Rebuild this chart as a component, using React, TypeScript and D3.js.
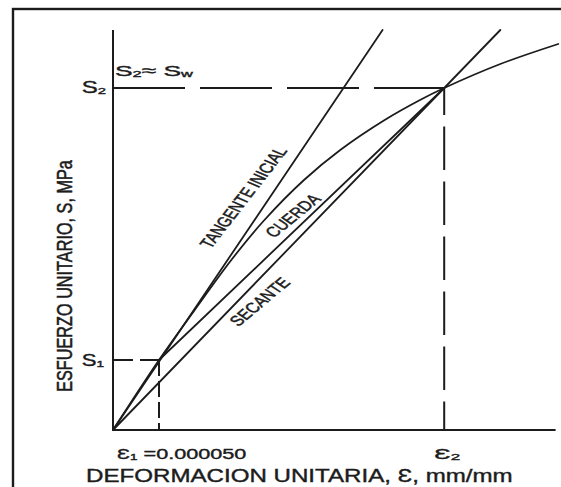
import { useEffect, useRef } from "react";
import * as d3 from "d3";

// values (strain in mm/mm, stress in arbitrary MPa units)
const strainMax = 0.00048;
const stressMax = 20;
const strainMarks = [0.00005, 0.00036]; // e1, e2
const stressMarks = [3.5, 17.1]; // S1, S2
const curveStrain = [0, 0.00005, 0.0000888, 0.0001286, 0.0001646, 0.0002076, 0.000247, 0.0002953, 0.0003337, 0.00036, 0.000421, 0.000484];
const curveStress = [0, 3.5, 6.0, 8.5, 10.5, 12.5, 14.0, 15.5, 16.5, 17.1, 18.3, 19.3];
const tangentStrain = [0, 0.000293];
const tangentStress = [0, 20];
const secantStrain = [0, 0.00036, 0.000421];
const secantStress = [0, 17.1, 20];

const lineLabels = [
  { text: "TANGENTE INICIAL", strain: 0.000148, stress: 11.5, angle: -60 },
  { text: "CUERDA", strain: 0.000201, stress: 10.55, angle: -47.5 },
  { text: "SECANTE", strain: 0.000165, stress: 6.25, angle: -48.6 },
];

const FONT = "'Liberation Sans', Arial, Helvetica, sans-serif";
const INK = "#1c1c1c";
const STRETCH = 1.35; // the scan is stretched horizontally

export default function App() {
  const svgRef = useRef<SVGSVGElement | null>(null);

  useEffect(() => {
    if (!svgRef.current) return;
    const svg = d3.select(svgRef.current);
    svg.selectAll("*").remove();

    const x = d3.scaleLinear().domain([0, strainMax]).range([113, 554.6]);
    const y = d3.scaleLinear().domain([0, stressMax]).range([430, 30]);

    svg.append("rect").attr("width", 561).attr("height", 487).attr("fill", "#fff");

    // outer frame (cut by the page edge)
    svg.append("rect")
      .attr("x", 13).attr("y", 9).attr("width", 700).attr("height", 700)
      .attr("fill", "none").attr("stroke", INK).attr("stroke-width", 2.4);

    // axes
    svg.append("line")
      .attr("x1", x(0)).attr("y1", y(0)).attr("x2", x(0)).attr("y2", y(stressMax))
      .attr("stroke", INK).attr("stroke-width", 2);
    svg.append("line")
      .attr("x1", x(0)).attr("y1", y(0)).attr("x2", x(strainMax) + 1).attr("y2", y(0))
      .attr("stroke", INK).attr("stroke-width", 2);

    const [e1, e2] = strainMarks;
    const [s1, s2] = stressMarks;

    const dashed = (x1: number, y1: number, x2: number, y2: number, dash: string, offset = 0) =>
      svg.append("line")
        .attr("x1", x1).attr("y1", y1).attr("x2", x2).attr("y2", y2)
        .attr("stroke", INK).attr("stroke-width", 2)
        .attr("stroke-dasharray", dash).attr("stroke-dashoffset", offset);

    dashed(x(0), y(s2), x(e2), y(s2), "72,15");
    dashed(x(e2), y(s2), x(e2), y(0), "43.5,11.5", 16.5);
    dashed(x(0), y(s1), x(e1), y(s1), "20,7");
    dashed(x(e1), y(s1), x(e1), y(0), "16,5");

    const line = d3.line<[number, number]>().x((d) => x(d[0])).y((d) => y(d[1]));
    const zip = (a: number[], b: number[]) => a.map((v, i) => [v, b[i]] as [number, number]);

    const drawPath = (pts: [number, number][], curved = false) =>
      svg.append("path")
        .attr("d", (curved ? line.curve(d3.curveCatmullRom.alpha(0.5)) : line.curve(d3.curveLinear))(pts)!)
        .attr("fill", "none").attr("stroke", INK).attr("stroke-width", 1.8)
        .attr("stroke-linecap", "round");

    drawPath(zip(tangentStrain, tangentStress));
    drawPath(zip(secantStrain, secantStress));
    drawPath([[e1, s1], [e2, s2]]);
    drawPath(zip(curveStrain, curveStress), true);

    // labels along the lines (condensed, like the original lettering)
    lineLabels.forEach((l) => {
      svg.append("text")
        .attr("transform", `translate(${x(l.strain)},${y(l.stress)}) scale(${STRETCH},1) rotate(${l.angle}) scale(0.86,1)`)
        .attr("text-anchor", "middle")
        .attr("font-family", FONT).attr("font-size", 14.5).attr("fill", INK)
        .attr("stroke", INK).attr("stroke-width", 0.45)
        .text(l.text);
    });

    // horizontal text squeezed into the measured width
    const fitted = (px: number, py: number, width: number, size: number, anchor: string) => {
      const t = svg.append("text")
        .attr("text-anchor", anchor)
        .attr("font-family", FONT).attr("font-size", size).attr("fill", INK)
        .attr("stroke", INK).attr("stroke-width", 0.4);
      return {
        t,
        fit: () => {
          const w = (t.node() as SVGTextElement).getBBox().width;
          t.attr("transform", `translate(${px},${py}) scale(${width / w},1)`);
        },
      };
    };

    const withSub = (t: d3.Selection<SVGTextElement, unknown, null, undefined>, main: string, sub: string, rest = "") => {
      t.append("tspan").text(main);
      t.append("tspan").attr("font-size", "0.62em").attr("dy", 1).text(sub);
      if (rest) t.append("tspan").attr("dy", -1).text(rest);
    };

    const sLeft2 = fitted(106, 93, 25, 16, "end");
    withSub(sLeft2.t, "S", "2");
    sLeft2.fit();

    const sw = fitted(115, 76, 78, 15.5, "start");
    withSub(sw.t, "S", "2", "\u2248 S");
    sw.t.append("tspan").attr("font-size", "0.62em").attr("dy", 1).text("w");
    sw.fit();

    const sLeft1 = fitted(104, 366, 23, 16, "end");
    withSub(sLeft1.t, "S", "1");
    sLeft1.fit();

    const eps1 = fitted(117, 459, 130, 15.5, "start");
    withSub(eps1.t, "\u0190", "1", " =0.000050");
    eps1.fit();

    const eps2 = fitted(x(e2) - 10, 459, 26, 15.5, "start");
    withSub(eps2.t, "\u0190", "2");
    eps2.fit();

    const xTitle = fitted(86, 482, 427, 18.5, "start");
    xTitle.t.text("DEFORMACION UNITARIA, \u0190, mm/mm");
    xTitle.fit();

    // rotated y title
    const yTitle = svg.append("text")
      .attr("text-anchor", "middle")
      .attr("font-family", FONT).attr("font-size", 15.7).attr("fill", INK)
      .attr("stroke", INK).attr("stroke-width", 0.4)
      .text("ESFUERZO UNITARIO, S, MPa");
    const yw = (yTitle.node() as SVGTextElement).getBBox().width;
    yTitle.attr("transform", `translate(72,276) scale(${STRETCH},1) rotate(-90) scale(${232 / yw},1)`);
  }, []);

  return (
    <svg
      ref={svgRef}
      width={561}
      height={487}
      style={{ position: "absolute", left: 0, top: 0, display: "block" }}
    />
  );
}
